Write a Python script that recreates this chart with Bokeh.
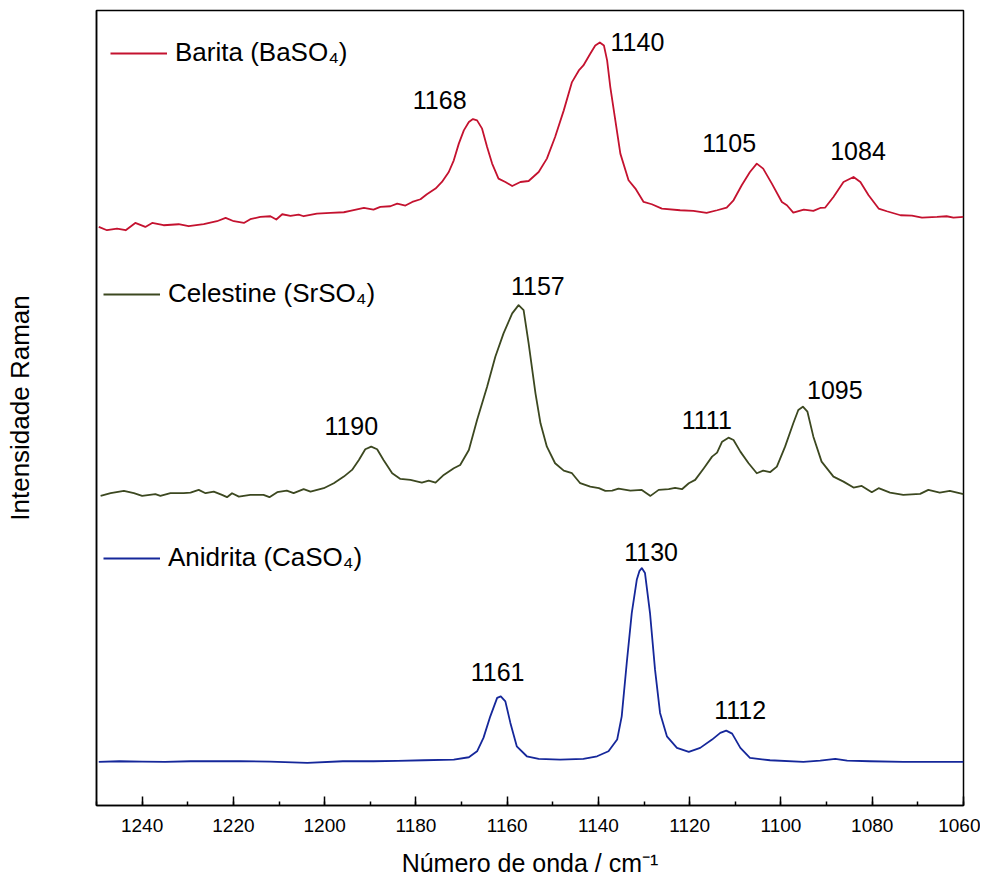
import numpy as np
from bokeh.plotting import figure
from bokeh.models import Range1d, FixedTicker, Legend, LegendItem, ColumnDataSource
from bokeh.embed import file_html
from bokeh.resources import INLINE
from bokeh.core.properties import value

# ---------------- data (Raman shift in cm-1, intensity in a.u.) ----------------
barita_wn = [1249.5, 1247.7, 1245.5, 1243.6, 1241.5, 1239.3, 1237.8, 1235.3, 1232.0, 1229.8,
             1226.5, 1223.6, 1221.7, 1219.9, 1217.7, 1216.3, 1214.1, 1211.9, 1210.6, 1209.3,
             1207.5, 1205.7, 1204.6, 1201.7, 1198.7, 1195.8, 1194.4, 1191.4, 1189.3, 1187.8,
             1185.6, 1184.1, 1182.3, 1180.8, 1179.0, 1177.6, 1175.7, 1174.3, 1172.8, 1171.7,
             1170.6, 1169.5, 1168.4, 1167.5, 1166.6, 1165.5, 1164.4, 1163.3, 1161.9, 1160.4,
             1158.9, 1157.1, 1155.3, 1153.1, 1151.3, 1149.5, 1147.6, 1145.8, 1144.3, 1143.3,
             1141.8, 1140.7, 1139.7, 1138.8, 1138.1, 1137.4, 1136.3, 1135.2, 1133.4, 1131.9,
             1130.1, 1128.3, 1126.1, 1122.1, 1119.2, 1116.3, 1114.0, 1111.9, 1110.4, 1108.6,
             1106.8, 1105.3, 1103.9, 1102.0, 1099.8, 1098.7, 1097.3, 1095.0, 1092.9, 1091.4,
             1090.3, 1088.5, 1086.3, 1084.1, 1082.6, 1080.8, 1078.6, 1076.8, 1073.8, 1071.3,
             1069.1, 1065.8, 1063.7, 1062.2, 1060.0]
barita_int = [-10.7, -14.0, -12.3, -14.0, -6.7, -10.7, -6.7, -9.0, -8.0, -10.0,
              -8.0, -5.0, -1.7, -5.0, -6.7, -3.0, -0.7, 0.0, -3.3, 2.0,
              0.3, 1.7, 0.0, 2.7, 3.3, 4.0, 5.3, 8.3, 6.7, 9.3,
              10.0, 12.7, 10.7, 14.3, 17.0, 22.0, 27.7, 34.3, 44.3, 56.0,
              72.7, 86.0, 94.3, 97.3, 96.0, 87.7, 69.3, 52.7, 37.7, 34.3,
              30.3, 34.3, 35.3, 44.3, 57.7, 79.3, 106.0, 134.3, 146.0, 151.0,
              162.7, 171.0, 174.0, 171.0, 156.0, 129.3, 96.0, 62.7, 36.0, 27.7,
              14.3, 12.0, 7.7, 6.0, 5.3, 3.3, 6.0, 8.7, 16.0, 31.0,
              44.3, 52.7, 47.7, 32.7, 14.3, 11.0, 3.7, 6.7, 5.3, 8.3,
              8.7, 19.3, 34.3, 39.3, 34.3, 21.0, 7.7, 5.0, 1.0, 0.7,
              -1.3, -0.7, 0.0, -1.3, -0.7]

celestine_wn = [1249.1, 1246.9, 1244.0, 1241.8, 1240.0, 1237.1, 1236.0, 1233.8, 1230.9, 1229.4,
                1227.6, 1226.1, 1224.3, 1222.5, 1221.4, 1220.3, 1218.8, 1216.3, 1213.4, 1212.1,
                1210.4, 1208.3, 1206.8, 1204.6, 1203.1, 1200.2, 1198.0, 1195.8, 1194.0, 1192.5,
                1191.1, 1189.8, 1188.5, 1187.1, 1185.2, 1183.4, 1181.2, 1178.7, 1177.2, 1175.7,
                1173.9, 1171.7, 1170.3, 1168.4, 1166.6, 1164.4, 1162.6, 1160.8, 1158.9, 1157.5,
                1156.4, 1155.3, 1153.8, 1152.7, 1151.3, 1149.5, 1147.6, 1145.8, 1144.0, 1141.8,
                1139.9, 1138.5, 1137.0, 1135.6, 1133.0, 1130.5, 1128.6, 1126.8, 1124.6, 1123.2,
                1121.7, 1120.2, 1118.8, 1116.9, 1115.1, 1114.0, 1112.9, 1111.5, 1110.4, 1108.9,
                1107.1, 1105.3, 1103.9, 1102.4, 1100.9, 1099.1, 1097.3, 1096.2, 1095.2, 1094.2,
                1092.9, 1091.1, 1088.5, 1086.3, 1084.1, 1082.3, 1080.1, 1078.6, 1076.1, 1073.2,
                1069.5, 1067.7, 1065.2, 1063.0, 1060.0]
celestine_int = [-2.0, 0.7, 3.0, 0.7, -2.0, -0.3, -2.0, 0.7, 0.7, 1.3,
                 4.0, 0.7, 2.3, -1.0, -3.3, 0.7, -2.7, -1.0, -1.0, -3.3,
                 1.7, 3.3, 0.7, 4.7, 2.3, 5.7, 10.7, 17.3, 24.0, 34.0,
                 44.7, 47.3, 44.7, 34.0, 20.7, 15.0, 14.0, 11.3, 13.3, 11.3,
                 19.0, 25.7, 29.0, 44.0, 74.0, 107.3, 137.3, 160.7, 180.7, 189.0,
                 184.0, 150.7, 100.7, 70.7, 47.3, 30.7, 23.3, 20.7, 10.7, 7.3,
                 5.7, 3.0, 3.3, 5.3, 3.3, 4.0, -2.0, 4.0, 4.7, 6.0,
                 4.7, 10.7, 14.0, 25.7, 37.3, 41.3, 52.3, 56.3, 54.0, 42.3,
                 30.7, 20.7, 23.3, 21.7, 27.3, 47.3, 70.7, 84.0, 87.3, 82.3,
                 57.3, 32.3, 17.3, 12.3, 6.3, 8.0, 1.7, 5.7, 1.3, -1.0,
                 0.0, 4.0, 1.3, 3.0, -0.3]

anidrita_wn = [1249.5, 1245.0, 1240.0, 1235.0, 1229.4, 1224.0, 1218.5, 1212.0, 1203.8, 1196.0,
               1189.3, 1184.0, 1178.3, 1171.7, 1168.4, 1166.6, 1165.2, 1163.7, 1162.2, 1161.4,
               1160.4, 1159.3, 1157.9, 1155.7, 1153.1, 1148.4, 1143.3, 1140.3, 1137.8, 1135.9,
               1134.9, 1133.8, 1132.7, 1131.6, 1131.0, 1130.5, 1129.8, 1128.7, 1127.6, 1126.5,
               1125.0, 1122.8, 1120.2, 1117.7, 1115.1, 1113.3, 1112.0, 1110.7, 1108.9, 1106.8,
               1102.4, 1095.1, 1091.4, 1088.1, 1085.5, 1080.5, 1073.2, 1065.8, 1060.0]
anidrita_int = [-0.3, 0.3, 0.0, -0.3, 0.3, 0.3, 0.3, 0.0, -1.3, 0.3,
                0.3, 0.7, 1.3, 2.0, 4.3, 10.3, 23.7, 45.3, 63.7, 65.3,
                60.3, 38.7, 15.3, 5.3, 2.7, 2.0, 2.7, 5.3, 10.3, 22.0,
                45.3, 98.7, 148.7, 182.0, 191.0, 193.7, 188.7, 148.7, 92.0, 48.7,
                25.3, 13.7, 9.7, 13.7, 22.0, 28.7, 31.0, 28.0, 13.7, 3.7,
                1.3, -0.3, 1.0, 2.7, 1.0, 0.3, -0.3, -0.3, -0.3]

series_names = ["Barita (BaSO\u2084)", "Celestine (SrSO\u2084)", "Anidrita (CaSO\u2084)"]
series_offsets = [590, 312, 44]          # vertical stacking offsets (a.u.)

barita_peaks = [1168, 1140, 1105, 1084]
celestine_peaks = [1190, 1157, 1111, 1095]
anidrita_peaks = [1161, 1130, 1112]

# ---------------- styles / layout ----------------
colors = ["#C4122F", "#3C4820", "#15279A"]
FONT = "Liberation Sans"
label_dx = [[-31, 39, -29, 4], [-19, 17, -24, 31], [-5, 7, 14]]
label_dy = [[-19, 0, -21, -26], [-21, -19, -18, -17], [-24, -16, -21]]
legend_pos = [(14, 737), (7, 496), (7, 232)]

p = figure(width=980, height=879, output_backend="svg", toolbar_location=None,
           x_range=Range1d(1250, 1060), y_range=Range1d(0, 796),
           min_border_left=96, min_border_right=17, min_border_top=10, min_border_bottom=73)
p.xgrid.visible = False
p.ygrid.visible = False
p.outline_line_color = "black"
p.outline_line_width = 1.5
p.background_fill_color = "white"
p.border_fill_color = "white"

ax = p.xaxis[0]
ax.ticker = FixedTicker(ticks=list(range(1240, 1059, -20)), minor_ticks=list(range(1250, 1059, -10)))
ax.major_tick_in = 9
ax.major_tick_out = 0
ax.minor_tick_in = 4
ax.minor_tick_out = 0
ax.axis_line_width = 1.5
ax.major_tick_line_width = 1.5
ax.minor_tick_line_width = 1.5
ax.major_label_text_font = FONT
ax.major_label_text_font_size = "19px"
ax.major_label_text_color = "black"
ax.major_label_standoff = 13
ax.axis_label = "Número de onda / cm\u207b\u00b9"
ax.axis_label_text_font = FONT
ax.axis_label_text_font_size = "25px"
ax.axis_label_text_font_style = "normal"
ax.axis_label_text_color = "black"
ax.axis_label_standoff = 14

ay = p.yaxis[0]
ay.ticker = FixedTicker(ticks=[])
ay.major_tick_out = 0
ay.major_tick_in = 0
ay.minor_tick_out = 0
ay.major_label_standoff = 0
ay.axis_line_width = 1.5
ay.axis_label = "Intensidade Raman"
ay.axis_label_text_font = FONT
ay.axis_label_text_font_size = "26px"
ay.axis_label_text_font_style = "normal"
ay.axis_label_text_color = "black"
ay.axis_label_standoff = 62

all_wn = [barita_wn, celestine_wn, anidrita_wn]
all_int = [barita_int, celestine_int, anidrita_int]
all_peaks = [barita_peaks, celestine_peaks, anidrita_peaks]

for i in range(3):
    wn = np.array(all_wn[i])
    inten = np.array(all_int[i]) + series_offsets[i]
    r = p.line(wn, inten, line_color=colors[i], line_width=1.8, line_join="round")

    leg = Legend(items=[LegendItem(label=series_names[i], renderers=[r])],
                 location=legend_pos[i], border_line_color=None, background_fill_alpha=0,
                 padding=0, margin=0, spacing=0, glyph_width=57, glyph_height=30,
                 label_height=30, label_standoff=8, label_text_font=FONT,
                 label_text_font_size="26px", label_text_color="black")
    p.add_layout(leg)

    px, py = [], []
    for pk in all_peaks[i]:
        mask = np.abs(wn - pk) <= 2
        px.append(pk)
        py.append(float(inten[mask].max()))
    src = ColumnDataSource(dict(x=px, y=py, t=[str(v) for v in all_peaks[i]],
                                dx=label_dx[i], dy=label_dy[i]))
    p.text(x="x", y="y", text="t", x_offset="dx", y_offset="dy", source=src,
           text_align="center", text_baseline="middle", text_font=value(FONT),
           text_font_size="25px", text_color="black")

open("out.html", "w").write(file_html(p, INLINE))
